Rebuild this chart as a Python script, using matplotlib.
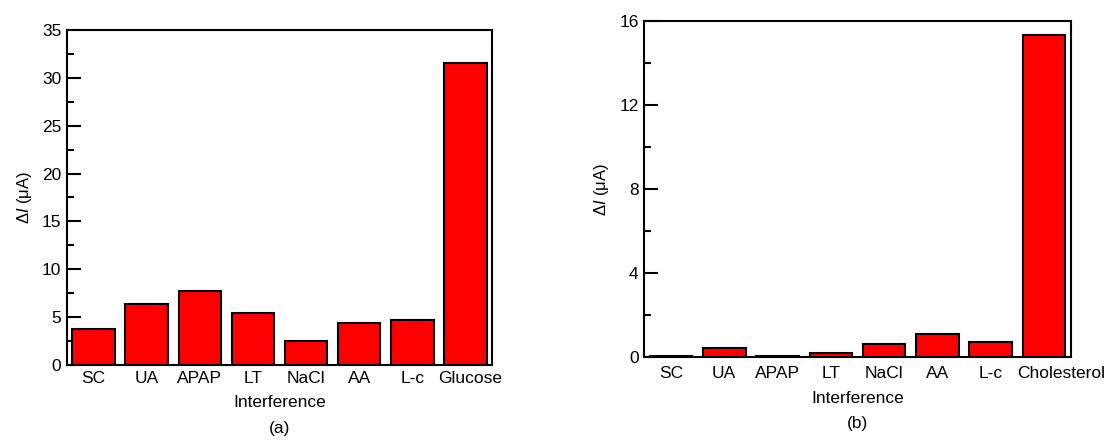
import matplotlib
matplotlib.use("Agg")
import matplotlib.pyplot as plt
from matplotlib.ticker import MultipleLocator
from matplotlib.transforms import ScaledTranslation

plt.rcParams['font.family'] = ['Liberation Sans', 'DejaVu Sans']
plt.rcParams['mathtext.fontset'] = 'custom'
plt.rcParams['mathtext.it'] = 'Liberation Sans:italic'
plt.rcParams['mathtext.rm'] = 'Liberation Sans'

cats_a = ["SC", "UA", "APAP", "LT", "NaCl", "AA", "L-c", "Glucose"]
vals_a = [3.73, 6.37, 7.73, 5.4, 2.5, 4.39, 4.7, 31.5]

cats_b = ["SC", "UA", "APAP", "LT", "NaCl", "AA", "L-c", "Cholesterol"]
vals_b = [0.05, 0.43, 0.08, 0.22, 0.62, 1.09, 0.71, 15.35]

fig = plt.figure(figsize=(11.07, 4.4), dpi=100)
ax_a = fig.add_axes([0.0605, 0.1705, 0.3839, 0.7614])
ax_b = fig.add_axes([0.582, 0.188, 0.3852, 0.7643])

FS = 12.5

def draw(ax, cats, vals, ymax, major, minor, tag, tag_y, xpad, xlpad, last_shift):
    x = list(range(len(cats)))
    ax.bar(x, vals, width=0.8, color='#FF0000', edgecolor='black', linewidth=1.5, zorder=2)
    ax.set_xlim(-0.5, len(cats) - 0.5)
    ax.set_ylim(0, ymax)
    ax.set_xticks(x)
    ax.set_xticklabels(cats, fontsize=FS)
    ax.tick_params(axis='x', length=0, pad=xpad)
    lbl = ax.get_xticklabels()[-1]
    lbl.set_transform(lbl.get_transform() + ScaledTranslation(last_shift / 100, 0, fig.dpi_scale_trans))
    ax.yaxis.set_major_locator(MultipleLocator(major))
    ax.yaxis.set_minor_locator(MultipleLocator(minor))
    ax.tick_params(axis='y', which='major', direction='in', length=10, width=1.5, labelsize=FS, pad=4)
    ax.tick_params(axis='y', which='minor', direction='in', length=5, width=1.5)
    for s in ax.spines.values():
        s.set_linewidth(1.5)
    ax.set_ylabel(r'$\Delta\mathit{I}$ (μA)', fontsize=12, labelpad=6)
    ax.set_xlabel('Interference', fontsize=FS, labelpad=xlpad)
    ax.text(0.5, tag_y, tag, transform=ax.transAxes, ha='center', va='center', fontsize=FS)

draw(ax_a, cats_a, vals_a, 35, 5, 2.5, '(a)', -0.191, 4, 7, 5)
draw(ax_b, cats_b, vals_b, 16, 4, 2, '(b)', -0.198, 6.5, 7, 17)

fig.savefig('out.png', dpi=100)
